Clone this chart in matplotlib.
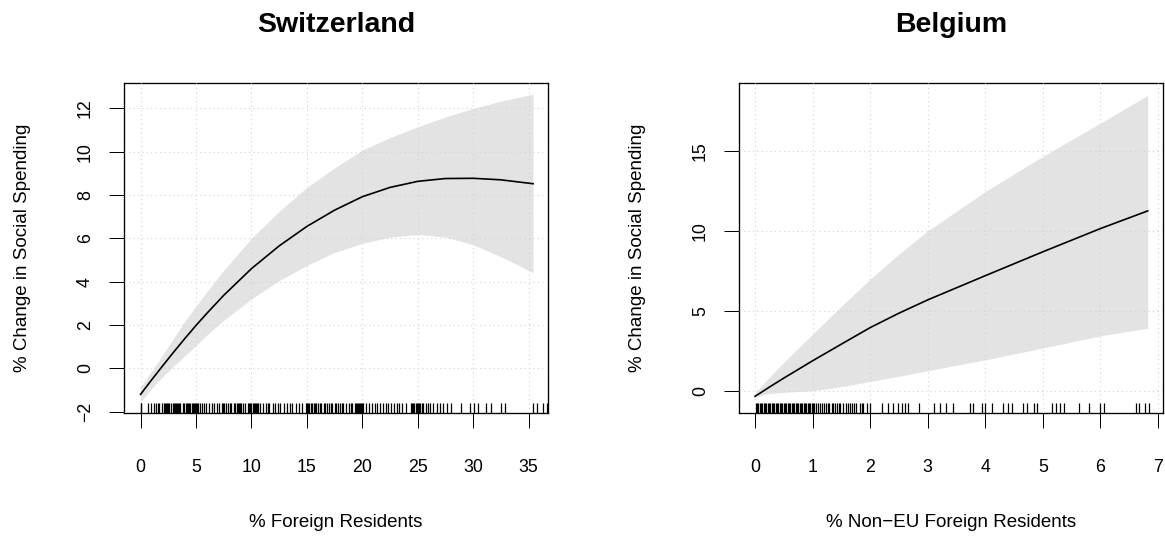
import matplotlib
matplotlib.use("Agg")
import matplotlib.pyplot as plt

plt.rcParams["font.family"] = ["Liberation Sans", "DejaVu Sans"]

# Switzerland: predicted change with confidence band
ch_x = [0, 1, 2, 3, 4, 5, 6, 7.5, 10, 12.5, 15, 17.5, 20, 22.5, 25, 27.5, 30, 32.5, 35.4]
ch_fit = [-1.2, -0.53, 0.12, 0.76, 1.38, 1.98, 2.55, 3.37, 4.6, 5.65, 6.55, 7.3, 7.92, 8.35, 8.63, 8.76, 8.77, 8.7, 8.52]
ch_hi = [-0.85, -0.13, 0.62, 1.41, 2.18, 2.88, 3.55, 4.52, 6.0, 7.25, 8.35, 9.25, 10.07, 10.65, 11.15, 11.6, 12.0, 12.33, 12.65]
ch_lo = [-1.55, -0.93, -0.38, 0.11, 0.58, 1.05, 1.55, 2.22, 3.2, 4.05, 4.75, 5.35, 5.77, 6.05, 6.18, 6.06, 5.7, 5.15, 4.42]
ch_rug = [0.0, 0.05, 0.7, 0.9, 1.2, 1.4, 1.55, 1.7, 1.9, 2.1, 2.2, 2.3, 2.4, 2.5, 2.6, 2.75,
          2.9, 3.0, 3.1, 3.2, 3.3, 3.4, 3.5, 3.6, 3.8, 3.95, 4.1, 4.2, 4.3, 4.4, 4.5, 4.6,
          4.7, 4.8, 4.9, 5.0, 5.1, 5.2, 5.35, 5.5, 5.7, 5.9, 6.2, 6.4, 6.6, 6.9, 7.1, 7.3,
          7.4, 7.5, 7.7, 7.9, 8.1, 8.2, 8.4, 8.55, 8.7, 8.8, 8.9, 9.0, 9.1, 9.2, 9.4, 9.7,
          9.8, 9.9, 10.0, 10.1, 10.2, 10.3, 10.4, 10.5, 10.6, 10.8, 11.0, 11.3, 11.45, 11.6,
          11.9, 12.1, 12.4, 12.6, 12.9, 13.2, 13.5, 13.7, 14.0, 14.3, 14.6, 14.9, 15.0,
          15.1, 15.2, 15.4, 15.5, 15.6, 15.7, 15.8, 16.0, 16.15, 16.3, 16.5, 16.65, 16.8,
          17.0, 17.15, 17.3, 17.5, 17.65, 17.8, 18.0, 18.15, 18.3, 18.5, 18.8, 19.0, 19.1,
          19.3, 19.4, 19.5, 19.6, 19.7, 19.8, 19.9, 20.0, 20.1, 20.3, 20.6, 20.9, 21.1,
          21.3, 21.6, 21.9, 22.1, 22.3, 22.6, 22.9, 23.1, 23.3, 23.6, 23.9, 24.4, 24.5,
          24.6, 24.7, 24.8, 24.9, 25.0, 25.1, 25.2, 25.4, 25.5, 25.7, 25.9, 26.1, 26.4,
          26.7, 27.0, 27.3, 27.6, 28.0, 28.9, 29.7, 30.05, 30.4, 31.2, 31.6, 32.5, 32.9,
          35.4, 35.8, 36.3, 36.7]
ch_xticks = [0, 5, 10, 15, 20, 25, 30, 35]
ch_yticks = [-2, 0, 2, 4, 6, 8, 10, 12]

# Belgium
be_x = [0, 0.25, 0.5, 1, 1.5, 2, 2.5, 3, 4, 5, 6, 6.82]
be_fit = [-0.33, 0.25, 0.81, 1.89, 2.93, 3.96, 4.86, 5.69, 7.2, 8.69, 10.14, 11.24]
be_hi = [-0.1, 0.88, 1.8, 3.55, 5.3, 6.98, 8.55, 10.0, 12.45, 14.65, 16.72, 18.45]
be_lo = [-0.36, -0.15, -0.08, 0.02, 0.27, 0.6, 0.92, 1.27, 1.95, 2.68, 3.45, 3.92]
be_rug = [0.01, 0.03, 0.05, 0.08, 0.1, 0.12, 0.15, 0.17, 0.19, 0.22, 0.24, 0.26, 0.29,
          0.31, 0.33, 0.36, 0.38, 0.4, 0.43, 0.45, 0.47, 0.5, 0.52, 0.54, 0.57, 0.59,
          0.61, 0.64, 0.66, 0.68, 0.71, 0.73, 0.75, 0.78, 0.8, 0.82, 0.85, 0.87, 0.89,
          0.92, 0.94, 0.96, 0.99, 1.0, 1.03, 1.06, 1.1, 1.13, 1.16, 1.19, 1.23, 1.26,
          1.29, 1.33, 1.36, 1.39, 1.42, 1.45, 1.48, 1.53, 1.58, 1.62, 1.65, 1.68, 1.72,
          1.76, 1.82, 1.85, 1.88, 1.94, 1.99, 2.2, 2.31, 2.4, 2.49, 2.55, 2.6, 2.66, 2.84,
          3.1, 3.21, 3.32, 3.44, 3.73, 3.79, 3.95, 3.99, 4.11, 4.3, 4.39, 4.47, 4.66,
          4.73, 4.84, 4.89, 5.16, 5.22, 5.29, 5.37, 5.63, 5.8, 6.0, 6.06, 6.61, 6.67,
          6.78, 6.84]
be_xticks = [0, 1, 2, 3, 4, 5, 6, 7]
be_yticks = [0, 5, 10, 15]

panels = [
    dict(title="Switzerland", xlabel="% Foreign Residents", x=ch_x, fit=ch_fit, lo=ch_lo, hi=ch_hi,
         rug=ch_rug, xticks=ch_xticks, yticks=ch_yticks, xlim=(-1.5, 36.75), ylim=(-2.04, 13.19),
         pos=[0.1064, 0.2318, 0.3640, 0.6145]),
    dict(title="Belgium", xlabel="% Non\u2212EU Foreign Residents", x=be_x, fit=be_fit, lo=be_lo, hi=be_hi,
         rug=be_rug, xticks=be_xticks, yticks=be_yticks, xlim=(-0.28, 7.08), ylim=(-1.34, 19.25),
         pos=[0.6343, 0.2318, 0.3637, 0.6145]),
]

fig = plt.figure(figsize=(11.65, 5.37), dpi=100)

for p in panels:
    ax = fig.add_axes(p["pos"])
    ax.fill_between(p["x"], p["lo"], p["hi"], color="#e3e3e3", lw=0, zorder=1)
    ax.plot(p["x"], p["fit"], color="black", lw=1.2, zorder=3)
    ax.vlines(p["rug"], 0, 0.03, transform=ax.get_xaxis_transform(), color="black", lw=0.9, zorder=3)

    ax.set_xlim(*p["xlim"])
    ax.set_ylim(*p["ylim"])
    ax.set_xticks(p["xticks"])
    ax.set_yticks(p["yticks"])
    ax.grid(True, color="lightgray", linestyle=(0, (1, 3)), lw=0.8, zorder=2)
    ax.set_axisbelow(False)

    for s in ax.spines.values():
        s.set_linewidth(0.95)
    ax.tick_params(direction="out", length=10.8, width=0.72, labelsize=12.8, colors="black")
    ax.tick_params(axis="x", pad=23)
    ax.tick_params(axis="y", pad=10.8)
    for lab in ax.get_yticklabels():
        lab.set_rotation(90)
        lab.set_va("center")
        lab.set_ha("right")

    ax.set_xlabel(p["xlabel"], fontsize=13.5, va="center")
    ax.xaxis.set_label_coords(0.5, -0.332)
    ax.set_ylabel("% Change in Social Spending", fontsize=13.5, va="center")
    ax.yaxis.set_label_coords(-0.24, 0.5)

    cx = p["pos"][0] + p["pos"][2] / 2
    fig.text(cx, 1 - 25 / 537, p["title"], ha="center", va="center", fontsize=20.5, fontweight="bold")

fig.savefig("out.png", dpi=100, facecolor="white")
